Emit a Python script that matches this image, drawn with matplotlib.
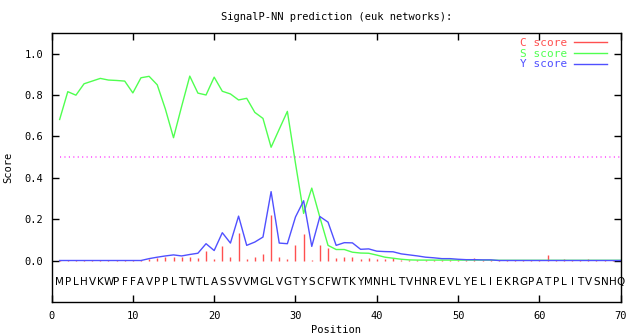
import matplotlib
matplotlib.use('Agg')
import matplotlib.pyplot as plt
import numpy as np

sequence = 'MPLHVKWPFFAVPPLTWTLASSVVMGLVGTYSCFWTKYMNHLTVHNREVLYELIEKRGPATPLITVSNHQ'
positions = list(range(1, 71))

c_score = [0.006] * 11 + [
    0.010, 0.014, 0.020, 0.020, 0.020, 0.020, 0.012, 0.047, 0.011, 0.070,
    0.021, 0.135, 0.011, 0.021, 0.031, 0.222, 0.017, 0.011, 0.075, 0.128,
    0.006, 0.079, 0.062, 0.012, 0.018, 0.018, 0.008, 0.013, 0.008, 0.010,
    0.013, 0.005, 0.005, 0.005, 0.005, 0.005, 0.005, 0.005, 0.005, 0.005,
    0.013, 0.004, 0.004, 0.004, 0.004, 0.004, 0.004, 0.004, 0.004, 0.030,
    0.004, 0.010, 0.004, 0.004, 0.008, 0.004, 0.004, 0.004, 0.004]

s_score = [
    0.682, 0.816, 0.799, 0.854, 0.867, 0.880, 0.872, 0.870, 0.867, 0.810,
    0.883, 0.890, 0.849, 0.732, 0.594, 0.745, 0.891, 0.809, 0.800, 0.886,
    0.818, 0.805, 0.776, 0.784, 0.716, 0.687, 0.548, 0.635, 0.721, 0.470,
    0.229, 0.351, 0.210, 0.075, 0.055, 0.055, 0.042, 0.038, 0.037, 0.028,
    0.018, 0.013, 0.008, 0.005, 0.004, 0.004, 0.004, 0.004, 0.004, 0.004,
    0.004, 0.004, 0.004, 0.004] + [0.003] * 16

y_score = [0.002] * 11 + [
    0.011, 0.018, 0.024, 0.029, 0.024, 0.031, 0.037, 0.083, 0.050, 0.136,
    0.086, 0.216, 0.075, 0.091, 0.115, 0.334, 0.086, 0.083, 0.212, 0.290,
    0.070, 0.214, 0.187, 0.075, 0.088, 0.087, 0.056, 0.058, 0.047, 0.045,
    0.044, 0.034, 0.029, 0.024, 0.018, 0.015, 0.011, 0.011, 0.008, 0.006,
    0.006, 0.005, 0.005] + [0.002] * 16

cutoff = 0.5

red = '#ff5050'
green = '#50ff50'
blue = '#5050ff'
magenta = '#ff44ff'
mono = 'DejaVu Sans Mono'

fig = plt.figure(figsize=(6.4, 3.36), dpi=100)
ax = fig.add_axes([0.0805, 0.100, 0.8895, 0.8025])

ax.vlines(positions, 0, c_score, color=red, lw=1)
ax.plot([], [], color=red, lw=1, label='C score')
ax.plot(positions, s_score, color=green, lw=1, label='S score')
ax.plot(positions, y_score, color=blue, lw=1, label='Y score')
ax.hlines(cutoff, positions[0], positions[-1], color=magenta, lw=1.1,
          linestyles=(0, (0.7, 2.2)))

for pos, aa in zip(positions, sequence):
    ax.text(pos, -0.1, aa, ha='center', va='center', fontsize=7.5,
            family='DejaVu Sans')

ax.set_xlim(0, 70)
ax.set_ylim(-0.2, 1.1)
ax.set_xticks(range(0, 71, 10))
ax.set_yticks([0.0, 0.2, 0.4, 0.6, 0.8, 1.0])
ax.set_yticklabels(['0.0', '0.2', '0.4', '0.6', '0.8', '1.0'])
ax.tick_params(direction='in', top=True, right=True, length=5, width=1,
               labelsize=7.5, pad=6)
for lab in ax.get_xticklabels() + ax.get_yticklabels():
    lab.set_family(mono)
for sp in ax.spines.values():
    sp.set_linewidth(1)

ax.set_title('SignalP-NN prediction (euk networks):', fontsize=7.5,
             family=mono, pad=9)
ax.set_xlabel('Position', fontsize=7.5, family=mono, labelpad=3)
ax.set_ylabel('Score', fontsize=7.5, family=mono, labelpad=8)

ax.legend(loc='upper right', bbox_to_anchor=(0.976, 0.982), frameon=False,
          markerfirst=False, labelcolor='linecolor',
          prop={'family': mono, 'size': 8},
          handlelength=3.0, handletextpad=0.6, labelspacing=0.08,
          borderaxespad=0.0, borderpad=0.0)

fig.savefig('out.png', dpi=100)
